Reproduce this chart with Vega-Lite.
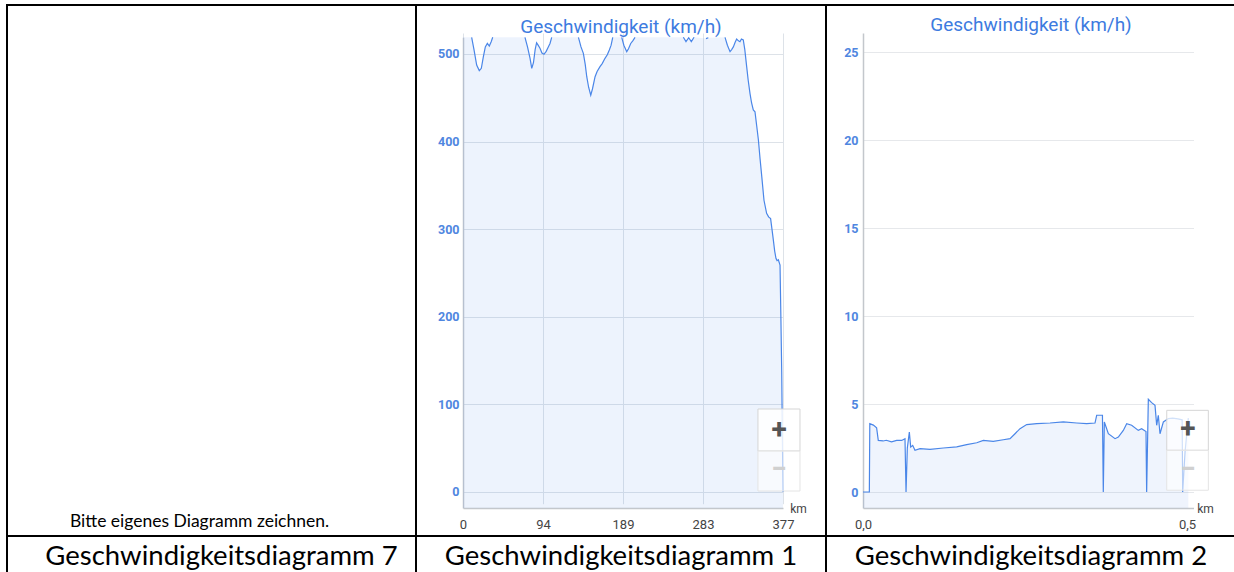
{
  "$schema": "https://vega.github.io/schema/vega-lite/v6.json",
  "padding": {"left": 6, "top": 4, "right": 0, "bottom": 0},
  "background": "white",
  "bounds": "flush",
  "spacing": 0,
  "columns": 3,
  "config": {
    "view": {"stroke": "#000000", "strokeWidth": 2},
    "concat": {"spacing": 0},
    "font": "Roboto"
  },
  "datasets": {
    "speed1": [
      {"km": 0, "kmh": 519, "seg": 0},
      {"km": 10.2, "kmh": 519, "seg": 1}, {"km": 13, "kmh": 504.6, "seg": 1}, {"km": 16.1, "kmh": 487.4, "seg": 1}, {"km": 19.2, "kmh": 481, "seg": 1}, {"km": 21.6, "kmh": 483.6, "seg": 1}, {"km": 24, "kmh": 497, "seg": 1}, {"km": 26.3, "kmh": 508, "seg": 1}, {"km": 28.7, "kmh": 512, "seg": 1}, {"km": 31, "kmh": 509, "seg": 1}, {"km": 33.2, "kmh": 514, "seg": 1}, {"km": 35, "kmh": 519, "seg": 1},
      {"km": 73, "kmh": 519, "seg": 2}, {"km": 76, "kmh": 508, "seg": 2}, {"km": 79, "kmh": 495, "seg": 2}, {"km": 81, "kmh": 483.6, "seg": 2}, {"km": 83, "kmh": 490, "seg": 2}, {"km": 85, "kmh": 505, "seg": 2}, {"km": 86.7, "kmh": 512.8, "seg": 2}, {"km": 88.5, "kmh": 510, "seg": 2}, {"km": 90.7, "kmh": 506.5, "seg": 2}, {"km": 93, "kmh": 501, "seg": 2}, {"km": 95.4, "kmh": 499.6, "seg": 2}, {"km": 98, "kmh": 503, "seg": 2}, {"km": 100.5, "kmh": 508, "seg": 2}, {"km": 102.5, "kmh": 512, "seg": 2}, {"km": 104.5, "kmh": 519, "seg": 2},
      {"km": 136, "kmh": 519, "seg": 3}, {"km": 139, "kmh": 508, "seg": 3}, {"km": 141.8, "kmh": 500.7, "seg": 3}, {"km": 144, "kmh": 488, "seg": 3}, {"km": 145.8, "kmh": 474, "seg": 3}, {"km": 148, "kmh": 462, "seg": 3}, {"km": 150.5, "kmh": 453, "seg": 3}, {"km": 152.5, "kmh": 460, "seg": 3}, {"km": 155.6, "kmh": 474, "seg": 3}, {"km": 158, "kmh": 480, "seg": 3}, {"km": 161.4, "kmh": 485.5, "seg": 3}, {"km": 164, "kmh": 489, "seg": 3}, {"km": 167.3, "kmh": 495, "seg": 3}, {"km": 170, "kmh": 499, "seg": 3}, {"km": 172.4, "kmh": 504.6, "seg": 3}, {"km": 174.5, "kmh": 510, "seg": 3}, {"km": 176.4, "kmh": 519, "seg": 3},
      {"km": 187, "kmh": 519, "seg": 4}, {"km": 189.5, "kmh": 510, "seg": 4}, {"km": 192.9, "kmh": 502.6, "seg": 4}, {"km": 195, "kmh": 506, "seg": 4}, {"km": 197.6, "kmh": 512, "seg": 4}, {"km": 200, "kmh": 515, "seg": 4}, {"km": 202.7, "kmh": 519, "seg": 4},
      {"km": 259.6, "kmh": 519, "seg": 5}, {"km": 262.7, "kmh": 514, "seg": 5}, {"km": 265.9, "kmh": 518.5, "seg": 5}, {"km": 269, "kmh": 514, "seg": 5}, {"km": 272.2, "kmh": 519, "seg": 5},
      {"km": 286.3, "kmh": 517.5, "seg": 6}, {"km": 289, "kmh": 518.5, "seg": 6},
      {"km": 308.7, "kmh": 519, "seg": 7}, {"km": 311.5, "kmh": 510, "seg": 7}, {"km": 314.6, "kmh": 502.6, "seg": 7}, {"km": 316.5, "kmh": 505, "seg": 7}, {"km": 318.5, "kmh": 508, "seg": 7}, {"km": 320.5, "kmh": 513, "seg": 7}, {"km": 322.4, "kmh": 517, "seg": 7}, {"km": 324.5, "kmh": 515, "seg": 7}, {"km": 326.3, "kmh": 514, "seg": 7}, {"km": 328, "kmh": 517, "seg": 7}, {"km": 330.2, "kmh": 516, "seg": 7}, {"km": 332, "kmh": 505, "seg": 7}, {"km": 334.2, "kmh": 485.5, "seg": 7}, {"km": 336, "kmh": 470, "seg": 7}, {"km": 338.1, "kmh": 455, "seg": 7}, {"km": 340, "kmh": 444, "seg": 7}, {"km": 342, "kmh": 436, "seg": 7}, {"km": 344, "kmh": 434, "seg": 7}, {"km": 346, "kmh": 418, "seg": 7}, {"km": 348, "kmh": 402, "seg": 7}, {"km": 350, "kmh": 380, "seg": 7}, {"km": 352, "kmh": 360, "seg": 7}, {"km": 354.6, "kmh": 333, "seg": 7}, {"km": 357.7, "kmh": 318, "seg": 7}, {"km": 360, "kmh": 314, "seg": 7}, {"km": 362.4, "kmh": 312, "seg": 7}, {"km": 364, "kmh": 300, "seg": 7}, {"km": 365.6, "kmh": 287.7, "seg": 7}, {"km": 367.2, "kmh": 275, "seg": 7}, {"km": 368.7, "kmh": 266.8, "seg": 7}, {"km": 370, "kmh": 264, "seg": 7}, {"km": 371.5, "kmh": 265, "seg": 7}, {"km": 373.5, "kmh": 259, "seg": 7}, {"km": 374.5, "kmh": 200, "seg": 7}, {"km": 375.5, "kmh": 137, "seg": 7}, {"km": 376.3, "kmh": 60, "seg": 7}, {"km": 377, "kmh": 0, "seg": 7}
    ],
    "speed2": [
      {"km": 0.0, "kmh": 0}, {"km": 0.0098, "kmh": 0}, {"km": 0.0105, "kmh": 3.88}, {"km": 0.016, "kmh": 3.8}, {"km": 0.021, "kmh": 3.65}, {"km": 0.0236, "kmh": 2.93}, {"km": 0.031, "kmh": 2.9}, {"km": 0.036, "kmh": 2.94}, {"km": 0.044, "kmh": 2.85}, {"km": 0.052, "kmh": 2.93}, {"km": 0.0597, "kmh": 2.93}, {"km": 0.0648, "kmh": 3.03}, {"km": 0.0664, "kmh": 0}, {"km": 0.0684, "kmh": 2.5}, {"km": 0.0715, "kmh": 3.4}, {"km": 0.0736, "kmh": 2.55}, {"km": 0.0767, "kmh": 2.65}, {"km": 0.0802, "kmh": 2.37}, {"km": 0.088, "kmh": 2.46}, {"km": 0.1034, "kmh": 2.42}, {"km": 0.124, "kmh": 2.5}, {"km": 0.1446, "kmh": 2.56}, {"km": 0.16, "kmh": 2.69}, {"km": 0.1755, "kmh": 2.8}, {"km": 0.1857, "kmh": 2.93}, {"km": 0.201, "kmh": 2.88}, {"km": 0.2165, "kmh": 2.97}, {"km": 0.2269, "kmh": 3.03}, {"km": 0.2346, "kmh": 3.31}, {"km": 0.2423, "kmh": 3.6}, {"km": 0.2526, "kmh": 3.83}, {"km": 0.268, "kmh": 3.88}, {"km": 0.2886, "kmh": 3.92}, {"km": 0.3091, "kmh": 3.98}, {"km": 0.3298, "kmh": 3.92}, {"km": 0.3452, "kmh": 3.88}, {"km": 0.358, "kmh": 3.92}, {"km": 0.3606, "kmh": 4.36}, {"km": 0.3695, "kmh": 4.36}, {"km": 0.3708, "kmh": 0}, {"km": 0.3724, "kmh": 3.98}, {"km": 0.3786, "kmh": 3.31}, {"km": 0.3889, "kmh": 3.03}, {"km": 0.394, "kmh": 3.12}, {"km": 0.4017, "kmh": 3.5}, {"km": 0.4069, "kmh": 3.88}, {"km": 0.4146, "kmh": 3.79}, {"km": 0.4248, "kmh": 3.5}, {"km": 0.43, "kmh": 3.6}, {"km": 0.4367, "kmh": 3.44}, {"km": 0.4377, "kmh": 0}, {"km": 0.4403, "kmh": 5.27}, {"km": 0.4454, "kmh": 5.08}, {"km": 0.4506, "kmh": 4.92}, {"km": 0.4532, "kmh": 3.79}, {"km": 0.4557, "kmh": 4.36}, {"km": 0.4583, "kmh": 3.31}, {"km": 0.4635, "kmh": 3.98}, {"km": 0.4712, "kmh": 4.17}, {"km": 0.478, "kmh": 4.2}, {"km": 0.486, "kmh": 4.15}, {"km": 0.4925, "kmh": 4.1}, {"km": 0.4933, "kmh": 0}, {"km": 0.497, "kmh": 2.3}, {"km": 0.502, "kmh": 4.2}
    ]
  },
  "concat": [
    {
      "width": 409,
      "height": 531,
      "view": {"stroke": "#000000", "strokeWidth": 2},
      "data": {"values": [{"t": "Bitte eigenes Diagramm zeichnen."}]},
      "mark": {"type": "text", "font": "Lato", "fontSize": 17.5, "color": "#000000", "baseline": "alphabetic", "dy": -9, "dx": -12},
      "encoding": {"text": {"field": "t"}, "y": {"value": "height"}}
    },
    {
      "width": 410,
      "height": 531,
      "title": {"text": "Geschwindigkeit (km/h)", "orient": "top", "anchor": "middle", "frame": "group", "offset": -46.5, "baseline": "alphabetic", "fontSize": 19, "fontWeight": "normal", "color": "#3d7be0", "font": "Roboto"},
      "data": {"name": "speed1"},
      "layer": [
        {
          "mark": {"type": "area", "color": "#4a86e8", "opacity": 0.1},
          "encoding": {
            "x": {"field": "km", "type": "quantitative", "scale": {"domain": [0, 377], "range": [47, 367], "nice": false, "zero": false},
              "axis": {"values": [0, 94.25, 188.5, 282.75, 377], "format": "d", "orient": "bottom", "offset": -28, "ticks": false, "tickSize": 0, "labelPadding": 10, "labelFlush": false, "labelColor": "#444444", "labelFontSize": 13, "labelFont": "Roboto", "domainColor": "#c3c7cc", "domainWidth": 1.5, "grid": true, "gridColor": "#dde2e8", "gridWidth": 1, "title": "km", "titleX": 382, "titleY": 4, "titleBaseline": "alphabetic", "titleAlign": "center", "titleFontSize": 12, "titleFontWeight": "normal", "titleColor": "#444444", "titleFont": "Roboto"}},
            "y": {"field": "kmh", "type": "quantitative", "scale": {"domain": [-18.3, 519], "range": [503, 32.3], "nice": false, "zero": false},
              "axis": {"values": [0, 100, 200, 300, 400, 500], "orient": "left", "offset": -47, "ticks": false, "tickSize": 0, "labelPadding": 4, "labelColor": "#4f86e0", "labelFontSize": 12.5, "labelFontWeight": "bold", "labelFont": "Roboto", "domainColor": "#c3c7cc", "domainWidth": 1.5, "grid": true, "gridColor": "#dde2e8", "gridWidth": 1, "title": null}},
            "y2": {"datum": -18.3}
          }
        },
        {
          "mark": {"type": "line", "color": "#4a86e8", "strokeWidth": 1.2},
          "encoding": {
            "x": {"field": "km", "type": "quantitative"},
            "y": {"field": "kmh", "type": "quantitative"},
            "detail": {"field": "seg", "type": "nominal"}
          }
        },
        {
          "data": {"values": [{"b": "+"}]},
          "mark": {"type": "rect", "fill": "#ffffff", "fillOpacity": 0.85, "stroke": "#d5d5d5", "strokeWidth": 1},
          "encoding": {"x": {"datum": 347.5}, "x2": {"datum": 397}, "y": {"datum": 46.8}, "y2": {"datum": 94.7}}
        },
        {
          "data": {"values": [{"b": "−"}]},
          "mark": {"type": "rect", "fill": "#ffffff", "fillOpacity": 0.6, "stroke": "#e4e4e4", "strokeWidth": 1},
          "encoding": {"x": {"datum": 347.5}, "x2": {"datum": 397}, "y": {"datum": 1.1}, "y2": {"datum": 46.8}}
        },
        {
          "data": {"values": [{"b": "+"}]},
          "mark": {"type": "text", "fontSize": 28, "fontWeight": "bold", "color": "#555555", "baseline": "middle"},
          "encoding": {"x": {"datum": 372.3}, "y": {"datum": 69.6}, "text": {"field": "b"}}
        },
        {
          "data": {"values": [{"b": "−"}]},
          "mark": {"type": "text", "fontSize": 28, "fontWeight": "bold", "color": "#d0d0d0", "baseline": "middle"},
          "encoding": {"x": {"datum": 372.3}, "y": {"datum": 25.1}, "text": {"field": "b"}}
        }
      ]
    },
    {
      "width": 410,
      "height": 531,
      "title": {"text": "Geschwindigkeit (km/h)", "orient": "top", "anchor": "middle", "frame": "group", "offset": -44.6, "baseline": "alphabetic", "fontSize": 19, "fontWeight": "normal", "color": "#3d7be0", "font": "Roboto"},
      "data": {"name": "speed2"},
      "layer": [
        {
          "mark": {"type": "area", "color": "#4a86e8", "opacity": 0.09},
          "encoding": {
            "x": {"field": "km", "type": "quantitative", "scale": {"domain": [0, 0.51], "range": [37, 367.5], "nice": false, "zero": false},
              "axis": {"values": [0, 0.5], "labelExpr": "replace(format(datum.value, '.1f'), '.', ',')", "orient": "bottom", "offset": -28, "ticks": false, "tickSize": 0, "labelPadding": 10, "labelFlush": false, "labelColor": "#444444", "labelFontSize": 13, "labelFont": "Roboto", "domainColor": "#c3c7cc", "domainWidth": 1.5, "grid": false, "title": "km", "titleX": 379, "titleY": 4, "titleBaseline": "alphabetic", "titleAlign": "center", "titleFontSize": 12, "titleFontWeight": "normal", "titleColor": "#444444", "titleFont": "Roboto"}},
            "y": {"field": "kmh", "type": "quantitative", "scale": {"domain": [-0.909, 26.08], "range": [503, 28], "nice": false, "zero": false},
              "axis": {"values": [0, 5, 10, 15, 20, 25], "orient": "left", "offset": -37, "ticks": false, "tickSize": 0, "labelPadding": 5, "labelColor": "#4f86e0", "labelFontSize": 12.5, "labelFontWeight": "bold", "labelFont": "Roboto", "domainColor": "#c3c7cc", "domainWidth": 1.5, "grid": true, "gridColor": "#e6e8eb", "gridWidth": 1, "title": null}},
            "y2": {"datum": -0.909}
          }
        },
        {
          "mark": {"type": "line", "color": "#4a86e8", "strokeWidth": 1.2},
          "encoding": {
            "x": {"field": "km", "type": "quantitative"},
            "y": {"field": "kmh", "type": "quantitative"}
          }
        },
        {
          "data": {"values": [{"b": "+"}]},
          "mark": {"type": "rect", "fill": "#ffffff", "fillOpacity": 0.75, "stroke": "#d5d5d5", "strokeWidth": 1},
          "encoding": {"x": {"datum": 0.4687}, "x2": {"datum": 0.5329}, "y": {"datum": 2.37}, "y2": {"datum": 4.64}}
        },
        {
          "data": {"values": [{"b": "−"}]},
          "mark": {"type": "rect", "fill": "#ffffff", "fillOpacity": 0.6, "stroke": "#e4e4e4", "strokeWidth": 1},
          "encoding": {"x": {"datum": 0.4687}, "x2": {"datum": 0.5329}, "y": {"datum": 0.1}, "y2": {"datum": 2.37}}
        },
        {
          "data": {"values": [{"b": "+"}]},
          "mark": {"type": "text", "fontSize": 28, "fontWeight": "bold", "color": "#555555", "baseline": "middle"},
          "encoding": {"x": {"datum": 0.5015}, "y": {"datum": 3.5}, "text": {"field": "b"}}
        },
        {
          "data": {"values": [{"b": "−"}]},
          "mark": {"type": "text", "fontSize": 28, "fontWeight": "bold", "color": "#d0d0d0", "baseline": "middle"},
          "encoding": {"x": {"datum": 0.5015}, "y": {"datum": 1.23}, "text": {"field": "b"}}
        }
      ]
    },
    {
      "width": 409,
      "height": 37,
      "view": {"stroke": "#000000", "strokeWidth": 2},
      "data": {"values": [{"t": "Geschwindigkeitsdiagramm 7"}]},
      "mark": {"type": "text", "font": "Lato", "fontSize": 27.5, "color": "#000000", "baseline": "alphabetic", "dy": -8, "dx": 10},
      "encoding": {"text": {"field": "t"}, "y": {"value": "height"}}
    },
    {
      "width": 410,
      "height": 37,
      "view": {"stroke": "#000000", "strokeWidth": 2},
      "data": {"values": [{"t": "Geschwindigkeitsdiagramm 1"}]},
      "mark": {"type": "text", "font": "Lato", "fontSize": 27.5, "color": "#000000", "baseline": "alphabetic", "dy": -8},
      "encoding": {"text": {"field": "t"}, "y": {"value": "height"}}
    },
    {
      "width": 410,
      "height": 37,
      "view": {"stroke": "#000000", "strokeWidth": 2},
      "data": {"values": [{"t": "Geschwindigkeitsdiagramm 2"}]},
      "mark": {"type": "text", "font": "Lato", "fontSize": 27.5, "color": "#000000", "baseline": "alphabetic", "dy": -8},
      "encoding": {"text": {"field": "t"}, "y": {"value": "height"}}
    }
  ]
}
